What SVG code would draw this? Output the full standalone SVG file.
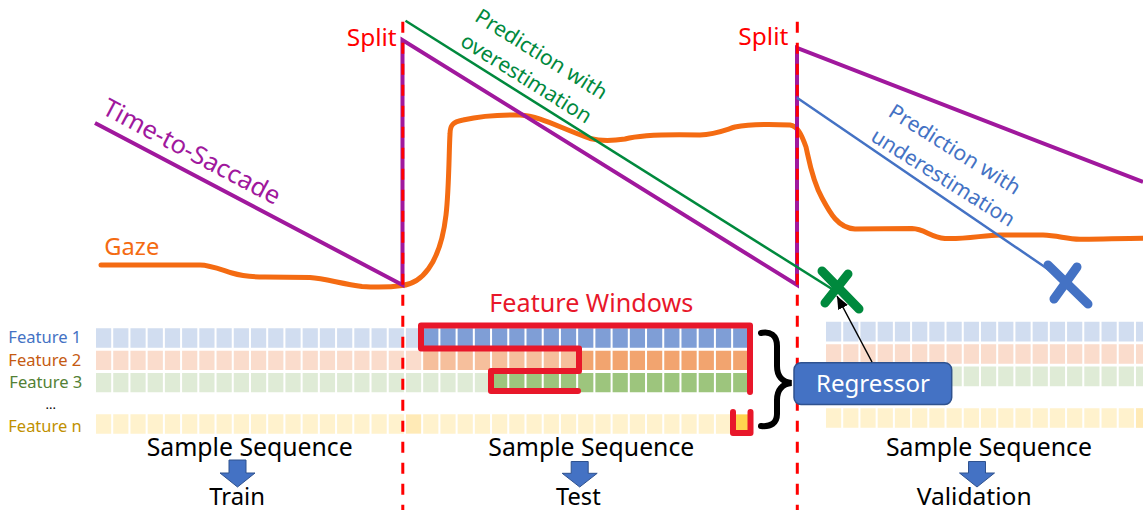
<svg xmlns="http://www.w3.org/2000/svg" width="1143" height="510" viewBox="0 0 1143 510">
  <style>
    text { font-family: "Noto Sans", "Open Sans", sans-serif; }
    .split { fill: #FF0000; font-size: 24px; }
    .split-line { stroke: #FF0000; stroke-width: 3; stroke-dasharray: 11 10; fill: none; }
    .tts { stroke: #A0189D; stroke-width: 4; fill: none; stroke-linejoin: miter; }
    .gaze { stroke: #F46B12; stroke-width: 5; fill: none; stroke-linecap: round; stroke-linejoin: round; }
    .pred-over { stroke: #00893D; stroke-width: 2.5; fill: none; }
    .pred-under { stroke: #4472C4; stroke-width: 2.5; fill: none; }
    .cells { stroke-dasharray: 15.2 2.02; fill: none; }
    .row-l { stroke-width: 19.3; }
    .row-r { stroke-width: 19.7; }
    .b0 { stroke: #D1DDF0; } .b1 { stroke: #7F9ED6; }
    .o0 { stroke: #FADCCC; } .o1 { stroke: #F6BF9C; } .o2 { stroke: #F2A46F; }
    .g0 { stroke: #DFEBD6; } .g1 { stroke: #9DC57D; }
    .y0 { stroke: #FFF2CD; } .y1 { stroke: #FFEAB6; } .y2 { stroke: #FFD44F; }
    .flabel { font-size: 16.5px; }
    .seq { font-size: 25px; fill: #000; }
    .phase { font-size: 23.5px; fill: #000; }
    .down { fill: #4472C4; stroke: #2F528F; stroke-width: 1; }
    .window { stroke: #E8172A; stroke-width: 6; fill: none; stroke-linejoin: round; stroke-linecap: round; }
    .xmark { stroke-width: 9; stroke-linecap: round; fill: none; }
  </style>
  <defs>
    <marker id="arrowhead" markerUnits="userSpaceOnUse" markerWidth="13" markerHeight="11" refX="13" refY="5.5" orient="auto">
      <path d="M0,0 L13,5.5 L0,11 z" fill="#000"/>
    </marker>
  </defs>

  <!-- feature grids: each row is a dashed thick line, one dash per cell -->
  <g id="grid-train-test">
    <line class="cells row-l b0" x1="96" y1="338" x2="421.16" y2="338"/>
    <line class="cells row-l b1" x1="423.18" y1="338" x2="748.34" y2="338"/>
    <line class="cells row-l o0" x1="96" y1="360.3" x2="421.16" y2="360.3"/>
    <line class="cells row-l o1" x1="423.18" y1="360.3" x2="576.14" y2="360.3"/>
    <line class="cells row-l o2" x1="578.16" y1="360.3" x2="748.34" y2="360.3"/>
    <line class="cells row-l g0" x1="96" y1="382.6" x2="490.04" y2="382.6"/>
    <line class="cells row-l g1" x1="492.06" y1="382.6" x2="748.34" y2="382.6"/>
    <line class="cells row-l y0" x1="96" y1="424" x2="403.94" y2="424"/>
    <line class="cells row-l y1" x1="405.96" y1="424" x2="421.16" y2="424"/>
    <line class="cells row-l y0" x1="423.18" y1="424" x2="731.12" y2="424"/>
    <line class="cells row-l y2" x1="733.14" y1="424" x2="748.34" y2="424"/>
  </g>
  <g id="grid-validation">
    <line class="cells row-r b0" x1="826" y1="331.6" x2="1151" y2="331.6"/>
    <line class="cells row-r o0" x1="826" y1="354" x2="1151" y2="354"/>
    <line class="cells row-r g0" x1="826" y1="376.4" x2="1151" y2="376.4"/>
    <line class="cells row-r y0" x1="826" y1="418" x2="1133.94" y2="418"/>
    <line class="cells row-r y1" x1="1135.96" y1="418" x2="1151" y2="418"/>
  </g>

  <!-- feature names -->
  <g id="feature-labels">
    <text class="flabel" x="8.3" y="343.3" fill="#4472C4" textLength="73" lengthAdjust="spacingAndGlyphs">Feature 1</text>
    <text class="flabel" x="8.3" y="366" fill="#C55A11" textLength="73" lengthAdjust="spacingAndGlyphs">Feature 2</text>
    <text class="flabel" x="9.3" y="388.3" fill="#538135" textLength="73" lengthAdjust="spacingAndGlyphs">Feature 3</text>
    <text x="45.5" y="408.5" fill="#000" font-size="13">...</text>
    <text class="flabel" x="8.3" y="431.7" fill="#BF9000" textLength="73.4" lengthAdjust="spacingAndGlyphs">Feature n</text>
  </g>

  <!-- signals -->
  <g id="gaze">
    <path class="gaze" d="M101,265 L200,265 C210,265 222,270 232,273 C242,276 252,277 265,277 L310,277.5 C325,278.5 342,284 362,286.5 C378,287.5 392,287 402,285.5 C420,284 440,266 446,215 C449,190 449,150 450,134 C450,125 453,122 463,120 C480,116 500,114.5 520,115 C540,116 560,128 590,138.5 C600,141 612,141 625,139 C640,135 660,134 700,135 C715,134.5 725,130 735,127 C750,124 770,124 790,125 C797,126 801,133 806,147 C809,160 812,180 822,198 C830,213 838,228 855,229 L912,228.5 C925,229 930,237 945,238.5 C965,239.5 985,235 1000,235 L1043,235 C1058,235.5 1066,239 1080,239.3 C1100,239.5 1120,238.3 1143,238.3"/>
    <text x="104.3" y="255" fill="#F46B12" font-size="24" textLength="55" lengthAdjust="spacingAndGlyphs">Gaze</text>
  </g>
  <g id="time-to-saccade">
    <path class="tts" d="M95,123 L402.5,285 L402.5,40 L797,285 L797,48 L1143,182"/>
    <text transform="translate(187.8,159.2) rotate(27.8)" text-anchor="middle" fill="#A0189D" font-size="25" textLength="197" lengthAdjust="spacingAndGlyphs">Time-to-Saccade</text>
  </g>
  <g id="prediction-over">
    <line class="pred-over" x1="405.5" y1="20.7" x2="832" y2="289"/>
    <g transform="translate(537.6,60.3) rotate(32)" fill="#00893D" font-size="21" text-anchor="middle">
      <text x="0" y="0" textLength="151" lengthAdjust="spacingAndGlyphs">Prediction with</text>
      <text x="0" y="28.5" textLength="150" lengthAdjust="spacingAndGlyphs">overestimation</text>
    </g>
  </g>
  <g id="prediction-under">
    <line class="pred-under" x1="797" y1="97.7" x2="1058" y2="276"/>
    <g transform="translate(951,155.6) rotate(32)" fill="#4472C4" font-size="21" text-anchor="middle">
      <text x="0" y="0" textLength="151" lengthAdjust="spacingAndGlyphs">Prediction with</text>
      <text x="5" y="30" textLength="165" lengthAdjust="spacingAndGlyphs">underestimation</text>
    </g>
  </g>

  <!-- split boundaries -->
  <g id="splits">
    <line class="split-line" x1="402.8" y1="21.7" x2="402.8" y2="510"/>
    <line class="split-line" x1="797.3" y1="21.7" x2="797.3" y2="510"/>
    <text class="split" x="346.7" y="45.5" textLength="50" lengthAdjust="spacingAndGlyphs">Split</text>
    <text class="split" x="738.3" y="45.3" textLength="50" lengthAdjust="spacingAndGlyphs">Split</text>
  </g>

  <!-- sliding feature window -->
  <g id="feature-window">
    <text x="489.3" y="311.5" fill="#E8172A" font-size="25" textLength="204" lengthAdjust="spacingAndGlyphs">Feature Windows</text>
    <path class="window" d="M578,391 L491,391 L491,371 L579,371 L579,348.5 L421,348.5 L421,325.5 L750,325.5 L750,392"/>
    <path class="window" d="M733,412 L733,433 L750.5,433 L750.5,412"/>
    <path d="M761,333 C770,331 777,335 777,346 L777,366 C777,376 782,382 791.5,383 C782,384 777,390 777,400 L777,414 C777,423 771,427 761,426" fill="none" stroke="#000" stroke-width="6" stroke-linecap="round"/>
  </g>

  <!-- prediction markers -->
  <g id="marker-over">
    <path class="xmark" stroke="#00893D" d="M822,271 L859,309 M848,274 L825,303"/>
  </g>
  <g id="marker-under">
    <path class="xmark" stroke="#4472C4" d="M1048,265 L1088,304 M1077,267 L1054,299"/>
  </g>

  <!-- model -->
  <g id="regressor">
    <rect x="794" y="362.7" width="157.7" height="41.8" rx="7" fill="#4472C4" stroke="#2F528F" stroke-width="1.5"/>
    <text x="873" y="391.5" fill="#FFFFFF" font-size="24" text-anchor="middle" textLength="114" lengthAdjust="spacingAndGlyphs">Regressor</text>
  </g>

  <g id="connectors">
    <line x1="872" y1="362" x2="837" y2="296" stroke="#000" stroke-width="1.5" marker-end="url(#arrowhead)"/>
  </g>

  <!-- partitions -->
  <g id="train">
    <text class="seq" x="146.7" y="455.7" textLength="206" lengthAdjust="spacingAndGlyphs">Sample Sequence</text>
    <path class="down" d="M229,460 L246,460 L246,473 L255,473 L237.5,487 L220,473 L229,473 z"/>
    <text class="phase" x="209.3" y="505" textLength="55.7" lengthAdjust="spacingAndGlyphs">Train</text>
  </g>
  <g id="test">
    <text class="seq" x="488.3" y="456" textLength="206" lengthAdjust="spacingAndGlyphs">Sample Sequence</text>
    <path class="down" d="M571.2,461.5 L588.2,461.5 L588.2,473.3 L597.2,473.3 L579.7,487 L562.2,473.3 L571.2,473.3 z"/>
    <text class="phase" x="556" y="505" textLength="44.7" lengthAdjust="spacingAndGlyphs">Test</text>
  </g>
  <g id="validation">
    <text class="seq" x="886" y="455.7" textLength="206" lengthAdjust="spacingAndGlyphs">Sample Sequence</text>
    <path class="down" d="M968.5,461.5 L985.5,461.5 L985.5,473 L994.5,473 L977,487 L959.5,473 L968.5,473 z"/>
    <text class="phase" x="916.7" y="505" textLength="115" lengthAdjust="spacingAndGlyphs">Validation</text>
  </g>
</svg>
